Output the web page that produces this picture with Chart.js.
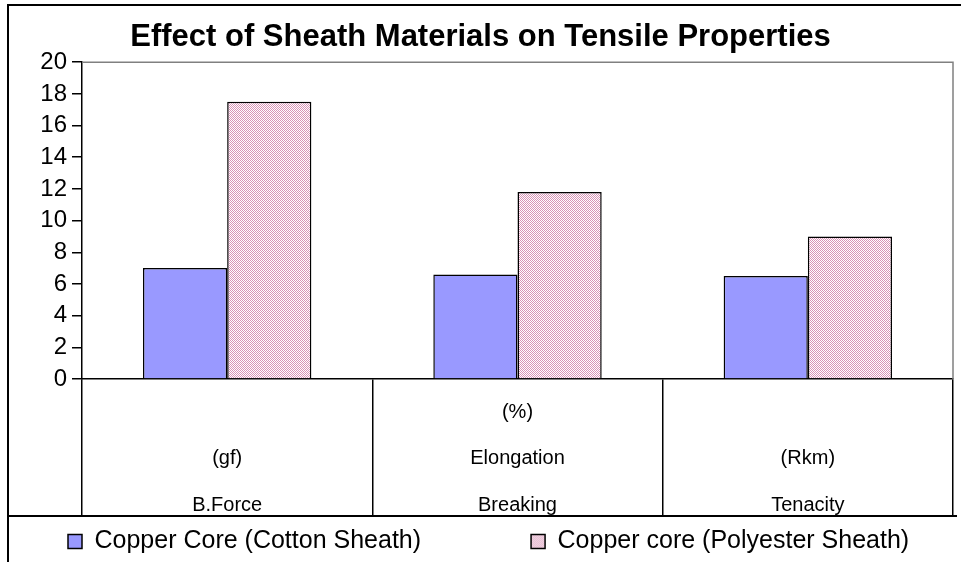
<!DOCTYPE html>
<html>
<head>
<meta charset="utf-8">
<script src="https://cdn.jsdelivr.net/npm/chart.js@4.4.0/dist/chart.umd.min.js"></script>
<style>
  html, body { margin: 0; padding: 0; background: #fff; }
</style>
</head>
<body>
<canvas id="tensile_chart" width="961" height="562"></canvas>
<script>
// categories are written top line first, the empty line keeps them bottom aligned
const categories = [
  ["", "(gf)", "B.Force"],
  ["(%)", "Elongation", "Breaking"],
  ["", "(Rkm)", "Tenacity"]
];
const cottonSheath = [7.0, 6.6, 6.5];
const polyesterSheath = [17.5, 11.8, 9.0];
const yTicks = [0, 2, 4, 6, 8, 10, 12, 14, 16, 18, 20];

Chart.defaults.font.family = "'Liberation Sans', Arial, sans-serif";
Chart.defaults.color = "#000";

function makeHatch() {
  const c = document.createElement("canvas");
  c.width = 2;
  c.height = 2;
  const g = c.getContext("2d");
  g.fillStyle = "#ffffff";
  g.fillRect(0, 0, 2, 2);
  g.fillStyle = "#d993b6";
  g.fillRect(0, 0, 1, 1);
  g.fillRect(1, 1, 1, 1);
  return g.createPattern(c, "repeat");
}

// outer frame, grey plot border and legend box, like the excel chart
const chartFrame = {
  id: "chartFrame",
  beforeLayout(chart) {
    const lg = chart.legend;
    if (lg && !lg._patched) {
      lg._patched = true;
      // keep both items on one row with the wide excel gap
      const fit = lg.fit;
      lg.fit = function () {
        const mw = this.maxWidth;
        this.maxWidth = 5000;
        fit.call(this);
        this.maxWidth = mw;
        this.width = mw;
        this.height = 46;
      };
      const draw = lg._draw;
      lg._draw = function () {
        const r = this.right;
        this.right = 5000;
        const p = this.options.labels.padding;
        const x0 = (this.left + p + this.right - this.lineWidths[0]) / 2;
        this.ctx.save();
        this.ctx.translate(68 - x0, -97);
        draw.call(this);
        this.ctx.restore();
        this.right = r;
      };
    }
  },
  afterDraw(chart) {
    const { ctx, chartArea: a } = chart;
    ctx.save();
    ctx.strokeStyle = "#808080";
    ctx.lineWidth = 1.5;
    ctx.beginPath();
    ctx.moveTo(a.left, a.top);
    ctx.lineTo(a.right, a.top);
    ctx.lineTo(a.right, a.bottom);
    ctx.stroke();
    ctx.strokeStyle = "#000";
    ctx.lineWidth = 2;
    ctx.strokeRect(8, 5, 1000, 600);
    const lt = chart.legend.top;
    ctx.beginPath();
    ctx.moveTo(8, lt);
    ctx.lineTo(a.right + 4, lt);
    ctx.stroke();
    ctx.restore();
  }
};

const ctx = document.getElementById("tensile_chart");
new Chart(ctx, {
  type: "bar",
  data: {
    labels: categories,
    datasets: [
      {
        label: "Copper Core (Cotton Sheath)",
        data: cottonSheath,
        backgroundColor: "#9999ff",
        borderColor: "#000",
        borderWidth: 1.5
      },
      {
        label: "Copper core (Polyester Sheath)",
        data: polyesterSheath,
        backgroundColor: makeHatch(),
        borderColor: "#000",
        borderWidth: 1.5
      }
    ]
  },
  options: {
    responsive: false,
    animation: false,
    layout: { padding: { left: 8, right: 8, top: 0, bottom: 0 } },
    datasets: {
      bar: { barPercentage: 1, categoryPercentage: 0.58 }
    },
    plugins: {
      title: {
        display: true,
        text: "Effect of Sheath Materials on Tensile Properties",
        font: { size: 31, weight: "bold" },
        color: "#000",
        padding: { top: 19, bottom: 6 }
      },
      legend: {
        position: "bottom",
        labels: {
          boxWidth: 14,
          boxHeight: 14,
          padding: 110,
          color: "#000",
          font: { size: 25 }
        }
      },
      tooltip: { enabled: false }
    },
    scales: {
      x: {
        grid: {
          drawOnChartArea: false,
          tickLength: 137,
          color: "#000",
          lineWidth: 1.5,
          offset: true
        },
        border: { color: "#000", width: 1.5 },
        ticks: {
          padding: -127.25,
          color: "#000",
          maxRotation: 0,
          autoSkip: false,
          font: { size: 20, lineHeight: 2.325 }
        },
        afterFit(s) { s.height = 137; }
      },
      y: {
        min: 0,
        max: 20,
        afterBuildTicks(s) { s.ticks = yTicks.map(v => ({ value: v })); },
        grid: {
          drawOnChartArea: false,
          tickLength: 10,
          color: "#000",
          lineWidth: 1.5
        },
        border: { color: "#000", width: 1.5 },
        ticks: { padding: 5, color: "#000", autoSkip: false, font: { size: 24 } },
        afterFit(s) { s.width = 74; }
      }
    }
  },
  plugins: [chartFrame]
});
</script>
</body>
</html>
